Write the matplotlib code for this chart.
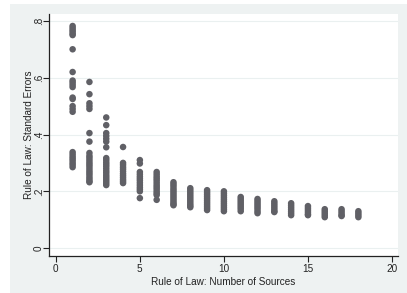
import matplotlib
matplotlib.use("Agg")
import matplotlib.pyplot as plt
from matplotlib.patches import Rectangle

# number of sources -> standard errors
n_sources = list(range(1, 19))
std_errors = [
    [0.782, 0.775, 0.768, 0.762, 0.755, 0.75, 0.70, 0.62, 0.59, 0.583, 0.575, 0.567,
     0.53, 0.525, 0.50, 0.49, 0.48, 0.338, 0.33, 0.322, 0.315, 0.308, 0.30, 0.293, 0.285],
    [0.585, 0.542, 0.51, 0.50, 0.49, 0.405, 0.375, 0.335, 0.325, 0.318, 0.31, 0.302,
     0.295, 0.288, 0.28, 0.272, 0.265, 0.258, 0.25, 0.243, 0.236, 0.232],
    [0.46, 0.433, 0.405, 0.395, 0.385, 0.375, 0.355, 0.317, 0.31, 0.302, 0.295, 0.288,
     0.28, 0.272, 0.265, 0.257, 0.25, 0.243, 0.236, 0.229, 0.222],
    [0.356, 0.30, 0.293, 0.285, 0.278, 0.27, 0.262, 0.255, 0.248, 0.241, 0.235, 0.229],
    [0.31, 0.298, 0.268, 0.26, 0.252, 0.245, 0.238, 0.23, 0.222, 0.214, 0.207, 0.20, 0.176],
    [0.268, 0.26, 0.252, 0.245, 0.238, 0.23, 0.222, 0.215, 0.208, 0.2, 0.193, 0.187, 0.17],
    [0.232, 0.225, 0.218, 0.21, 0.203, 0.196, 0.189, 0.182, 0.175, 0.168, 0.161, 0.155, 0.151],
    [0.211, 0.204, 0.197, 0.19, 0.183, 0.176, 0.169, 0.162, 0.155, 0.149, 0.144],
    [0.204, 0.197, 0.19, 0.183, 0.176, 0.169, 0.162, 0.155, 0.148, 0.141, 0.134],
    [0.20, 0.193, 0.186, 0.179, 0.172, 0.165, 0.158, 0.151, 0.144, 0.137, 0.13],
    [0.18, 0.173, 0.166, 0.159, 0.152, 0.145, 0.138, 0.13],
    [0.173, 0.166, 0.159, 0.152, 0.145, 0.138, 0.13, 0.123],
    [0.165, 0.158, 0.151, 0.144, 0.137, 0.13, 0.127],
    [0.158, 0.151, 0.144, 0.137, 0.13, 0.123, 0.116],
    [0.148, 0.141, 0.134, 0.127, 0.12, 0.116],
    [0.137, 0.13, 0.123, 0.116, 0.109],
    [0.137, 0.13, 0.123, 0.116, 0.113],
    [0.13, 0.123, 0.116, 0.109],
]

x_ticks = [0, 5, 10, 15, 20]
y_ticks = [0, 0.2, 0.4, 0.6, 0.8]
y_tick_labels = ["0", ".2", ".4", ".6", ".8"]

xs, ys = [], []
for n, vals in zip(n_sources, std_errors):
    xs += [n] * len(vals)
    ys += vals

plt.rcParams['font.family'] = ['Liberation Sans', 'DejaVu Sans']
fig = plt.figure(figsize=(4.07, 2.93), dpi=100, facecolor='white')
fig.patches.append(Rectangle((0.0246, 0.0), 0.9754, 0.986, transform=fig.transFigure,
                             facecolor='#eef2f2', edgecolor='none', zorder=-10))

ax = fig.add_axes([0.12, 0.126, 0.858, 0.826])
ax.set_facecolor('white')
ax.scatter(xs, ys, s=22, color='#606066', edgecolors='none', zorder=3)

ax.set_xlim(-0.415, 20.36)
ax.set_ylim(-0.028, 0.824)
ax.set_xticks(x_ticks)
ax.set_yticks(y_ticks)
ax.set_yticklabels(y_tick_labels, rotation=90, va='center', ha='center')
ax.grid(axis='y', color='#eaf0f0', linewidth=0.8)
ax.set_axisbelow(True)

for side in ['top', 'right']:
    ax.spines[side].set_visible(False)
for side in ['left', 'bottom']:
    ax.spines[side].set_color('#222222')
    ax.spines[side].set_linewidth(0.9)
ax.tick_params(labelsize=7.2, length=4, width=0.8, color='#222222', labelcolor='#222222', pad=2)
ax.tick_params(axis='y', pad=3)

ax.set_xlabel('Rule of Law: Number of Sources', fontsize=7.2, color='#222222', labelpad=2)
ax.set_ylabel('Rule of Law: Standard Errors', fontsize=7.2, color='#222222', labelpad=0)

fig.savefig('out.png', dpi=100, facecolor=fig.get_facecolor())
